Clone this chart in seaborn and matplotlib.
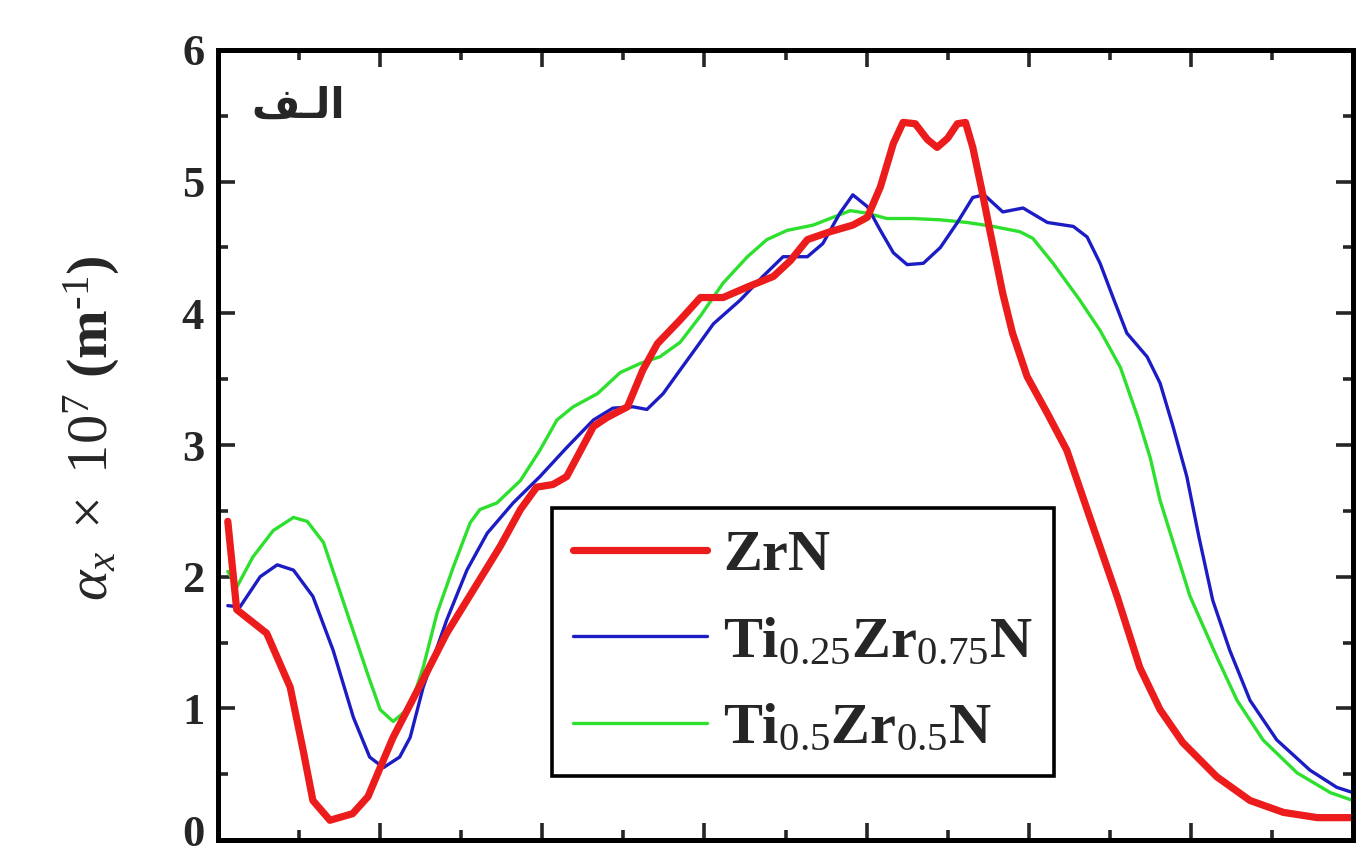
import matplotlib
matplotlib.use('Agg')
import matplotlib.pyplot as plt
import matplotlib.transforms as mtrans
import seaborn as sns
import pandas as pd
from matplotlib.ticker import MultipleLocator
from matplotlib.font_manager import FontProperties

# ---------------- data ----------------
energy_zrn = [0.12, 0.23, 0.60, 0.89, 1.05, 1.17, 1.38, 1.66, 1.85, 2.00, 2.16, 2.53, 2.82,
              3.15, 3.48, 3.73, 3.93, 4.13, 4.30, 4.63, 4.80, 5.05, 5.24, 5.42, 5.70, 5.95,
              6.23, 6.53, 6.85, 7.06, 7.27, 7.55, 7.83, 8.01, 8.17, 8.33, 8.45, 8.60, 8.75,
              8.87, 9.00, 9.12, 9.22, 9.31, 9.42, 9.52, 9.68, 9.80, 9.98, 10.23, 10.47, 10.72,
              11.09, 11.37, 11.62, 11.90, 12.32, 12.73, 13.14, 13.56, 14.00]
alpha_zrn = [2.42, 1.75, 1.57, 1.16, 0.68, 0.30, 0.15, 0.20, 0.33, 0.55, 0.78, 1.22, 1.57,
             1.90, 2.23, 2.51, 2.68, 2.70, 2.76, 3.14, 3.21, 3.29, 3.57, 3.77, 3.95, 4.12,
             4.12, 4.20, 4.28, 4.40, 4.56, 4.62, 4.67, 4.73, 4.96, 5.29, 5.45, 5.44, 5.32,
             5.26, 5.33, 5.44, 5.45, 5.26, 4.94, 4.63, 4.15, 3.85, 3.52, 3.24, 2.96, 2.51,
             1.85, 1.31, 0.99, 0.74, 0.48, 0.30, 0.21, 0.17, 0.17]

energy_ti25 = [0.12, 0.27, 0.52, 0.73, 0.93, 1.17, 1.42, 1.67, 1.87, 2.04, 2.24, 2.37, 2.53,
               2.82, 3.07, 3.32, 3.64, 3.97, 4.30, 4.63, 4.87, 5.12, 5.29, 5.49, 5.70, 5.90,
               6.11, 6.44, 6.72, 6.97, 7.27, 7.46, 7.67, 7.83, 8.01, 8.17, 8.33, 8.50, 8.70,
               8.91, 9.12, 9.31, 9.45, 9.68, 9.93, 10.23, 10.55, 10.72, 10.88, 11.04, 11.21,
               11.46, 11.62, 11.78, 11.95, 12.10, 12.27, 12.48, 12.73, 13.06, 13.47, 13.80, 14.00]
alpha_ti25 = [1.78, 1.77, 2.00, 2.09, 2.05, 1.85, 1.44, 0.93, 0.63, 0.55, 0.63, 0.78, 1.16,
              1.67, 2.05, 2.33, 2.56, 2.76, 2.98, 3.19, 3.28, 3.29, 3.27, 3.39, 3.57, 3.74,
              3.92, 4.10, 4.28, 4.43, 4.43, 4.53, 4.76, 4.90, 4.81, 4.63, 4.46, 4.37, 4.38,
              4.50, 4.69, 4.88, 4.90, 4.77, 4.80, 4.69, 4.66, 4.58, 4.38, 4.12, 3.85,
              3.67, 3.47, 3.14, 2.76, 2.30, 1.82, 1.44, 1.06, 0.76, 0.53, 0.40, 0.36]

energy_ti50 = [0.12, 0.23, 0.43, 0.68, 0.93, 1.10, 1.30, 1.54, 1.84, 2.00, 2.16, 2.37, 2.53,
               2.70, 2.90, 3.11, 3.23, 3.44, 3.73, 3.97, 4.18, 4.38, 4.68, 4.96, 5.21, 5.45,
               5.70, 5.95, 6.23, 6.53, 6.77, 7.02, 7.34, 7.59, 7.80, 8.01, 8.25, 8.57, 8.91,
               9.24, 9.56, 9.89, 10.05, 10.30, 10.63, 10.88, 11.13, 11.34, 11.50, 11.62, 11.99,
               12.32, 12.57, 12.89, 13.31, 13.72, 14.00]
alpha_ti50 = [2.04, 1.92, 2.15, 2.35, 2.45, 2.42, 2.26, 1.82, 1.27, 0.99, 0.90, 1.01, 1.31,
              1.72, 2.07, 2.41, 2.51, 2.56, 2.73, 2.96, 3.19, 3.29, 3.39, 3.55, 3.62, 3.67,
              3.78, 3.98, 4.23, 4.43, 4.56, 4.63, 4.67, 4.73, 4.78, 4.76, 4.72, 4.72, 4.71,
              4.69, 4.66, 4.62, 4.57, 4.38, 4.10, 3.87, 3.59, 3.22, 2.90, 2.58, 1.85,
              1.39, 1.06, 0.76, 0.51, 0.36, 0.30]

series_labels = ['ZrN', r'Ti$_{0.25}$Zr$_{0.75}$N', r'Ti$_{0.5}$Zr$_{0.5}$N']
y_label = r'$\alpha_x\ \times\ 10^7$ (m$^{\text{-}1}$)'
panel_label = '\uFED2\u0640\uFEDF\u0627'   # "الـف" in visual (presentation) form

# ---------------- style ----------------
sns.set_theme(style='ticks')
plt.rcParams['font.family'] = ['Liberation Serif', 'DejaVu Sans']
plt.rcParams['mathtext.fontset'] = 'custom'
plt.rcParams['mathtext.rm'] = 'Liberation Serif'
plt.rcParams['mathtext.it'] = 'Liberation Serif:italic'
plt.rcParams['mathtext.bf'] = 'Liberation Serif:bold'

fig = plt.figure(figsize=(13.62, 8.59), dpi=100)
ax = fig.add_axes([0.1601, 0.0221, 0.8333, 0.9197])

df = pd.concat([
    pd.DataFrame({'E': energy_zrn, 'a': alpha_zrn, 's': series_labels[0]}),
    pd.DataFrame({'E': energy_ti25, 'a': alpha_ti25, 's': series_labels[1]}),
    pd.DataFrame({'E': energy_ti50, 'a': alpha_ti50, 's': series_labels[2]}),
])

colors = ['#ec1c1c', '#1c1cc4', '#2ee02e']
widths = [5.2, 2.4, 2.4]
order = [2, 1, 0]  # draw red on top
for i in order:
    sub = df[df['s'] == series_labels[i]]
    sns.lineplot(data=sub, x='E', y='a', ax=ax, color=colors[i], lw=widths[i],
                 sort=False, estimator=None, label=series_labels[i],
                 solid_capstyle='round', solid_joinstyle='round')

ax.set_xlim(0, 14)
ax.set_ylim(0, 6)
ax.xaxis.set_major_locator(MultipleLocator(2))
ax.xaxis.set_minor_locator(MultipleLocator(1))
ax.yaxis.set_major_locator(MultipleLocator(1))
ax.yaxis.set_minor_locator(MultipleLocator(0.5))
ax.tick_params(which='both', direction='in', top=True, right=True, width=2.6,
               labelbottom=False, labelsize=32, pad=10)
ax.tick_params(which='major', length=12)
ax.tick_params(which='minor', length=7)
for sp in ax.spines.values():
    sp.set_linewidth(3.6)
    sp.set_color('black')
ax.set_xlabel('')
ax.set_ylabel(y_label, fontsize=42, fontweight='bold')
ax.yaxis.set_label_coords(-0.085, 0.522)

ax.text(0.071, 0.93, panel_label, transform=ax.transAxes, family=['DejaVu Sans'],
        fontweight='bold', fontsize=30, ha='center', va='center')

handles, labels = ax.get_legend_handles_labels()
hmap = dict(zip(labels, handles))
leg = ax.legend([hmap[l] for l in series_labels], series_labels, loc='upper left',
                bbox_to_anchor=(0.294, 0.42), borderaxespad=0, frameon=True,
                fancybox=False, edgecolor='black', framealpha=1,
                prop=FontProperties(family='Liberation Serif', weight='bold', size=42),
                handlelength=2.3, handletextpad=0.28, labelspacing=0.58, borderpad=0.36)
leg.get_frame().set_linewidth(2.6)

fig.canvas.draw()
for lab in ax.get_yticklabels():
    lab.set_fontweight('bold')
# nudge the "0" label up a little so that it stays inside the canvas
locs = list(ax.yaxis.get_majorticklocs())
ticks = ax.yaxis.get_major_ticks()
for loc, tk in zip(locs, ticks):
    if abs(loc) < 1e-9:
        tk.label1.set_transform(tk.label1.get_transform() +
                                mtrans.ScaledTranslation(0, 7 / 72, fig.dpi_scale_trans))

fig.savefig('out.png', dpi=100)
